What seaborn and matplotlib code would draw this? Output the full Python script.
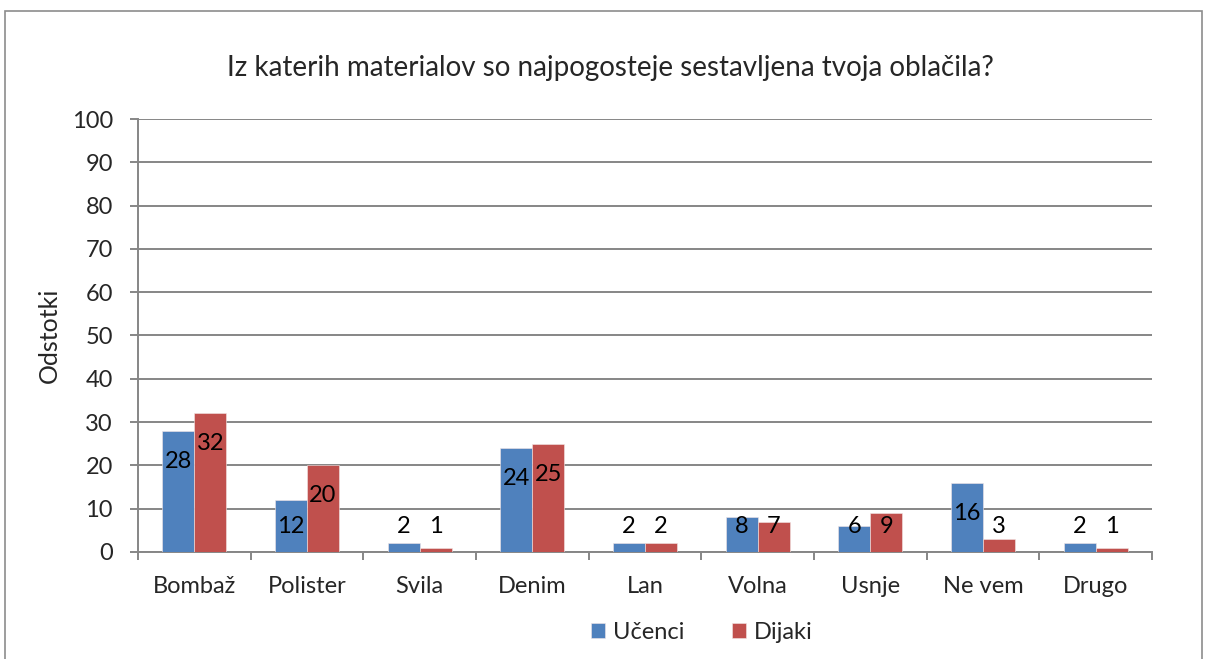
import matplotlib
matplotlib.use("Agg")
import matplotlib.pyplot as plt
import pandas as pd
import seaborn as sns
from matplotlib.patches import Rectangle

categories = ["Bombaž", "Polister", "Svila", "Denim", "Lan", "Volna", "Usnje", "Ne vem", "Drugo"]
ucenci = [28, 12, 2, 24, 2, 8, 6, 16, 2]
dijaki = [32, 20, 1, 25, 2, 7, 9, 3, 1]
series = ["Učenci", "Dijaki"]
yticks = [0, 10, 20, 30, 40, 50, 60, 70, 80, 90, 100]

df = pd.DataFrame({
    "kategorija": categories * 2,
    "vrednost": ucenci + dijaki,
    "skupina": [series[0]] * len(categories) + [series[1]] * len(categories),
})

sns.set_style("white")
plt.rcParams["font.family"] = ["Lato", "DejaVu Sans"]

grid_col = "#868686"
fs = 17
fig = plt.figure(figsize=(12.07, 6.59), dpi=100)
ax = fig.add_axes([0.1143, 0.1624, 0.8401, 0.657])

sns.barplot(data=df, x="kategorija", y="vrednost", hue="skupina",
            palette=["#4F81BD", "#C0504D"], saturation=1, width=0.568, gap=0,
            edgecolor="#f2e6e6", linewidth=0.4, ax=ax, zorder=3)

# data labels (Excel style: inside end, never below the floor)
n = len(categories)
for i, bars in enumerate(ax.containers):
    vals = [ucenci, dijaki][i]
    for bar, v in zip(bars, vals):
        xc = bar.get_x() + bar.get_width() / 2
        ax.text(xc, max(v - 7, 6), str(v), ha="center", va="center",
                fontsize=fs, color="black", zorder=4)

ax.set_ylim(0, 100)
ax.set_xlim(-0.5, n - 0.5)
ax.set_yticks(yticks)
ax.yaxis.grid(True, color=grid_col, linewidth=1.4, zorder=0)
ax.set_axisbelow(True)
for side in ["top", "right"]:
    ax.spines[side].set_visible(False)
for side in ["left", "bottom"]:
    ax.spines[side].set_color(grid_col)
    ax.spines[side].set_linewidth(1.4)

ax.tick_params(axis="y", length=6, width=1.4, color=grid_col, labelsize=fs, pad=12, left=True)
ax.set_xticks(range(n))
ax.set_xticklabels(categories, fontsize=fs)
ax.tick_params(axis="x", which="major", length=0, pad=17)
ax.set_xticks([k - 0.5 for k in range(n + 1)], minor=True)
ax.tick_params(axis="x", which="minor", length=6, width=1.4, color=grid_col, bottom=True)

ax.set_xlabel("")
ax.set_ylabel("Odstotki", fontsize=18)
ax.yaxis.set_label_coords(-0.076, 0.5)

ax.legend(loc="center", bbox_to_anchor=(0.556, -0.185), ncol=2, frameon=False,
          fontsize=fs, handlelength=0.6, handleheight=0.6, handletextpad=0.35,
          columnspacing=2.0)

fig.text(0.506, 0.897, "Iz katerih materialov so najpogosteje sestavljena tvoja oblačila?",
         ha="center", va="center", fontsize=20)

fig.patches.append(Rectangle((0.004, -0.02), 0.992, 1.003, transform=fig.transFigure,
                             fill=False, edgecolor="#8c8c8c", linewidth=1.2))

fig.savefig("out.png", dpi=100)
